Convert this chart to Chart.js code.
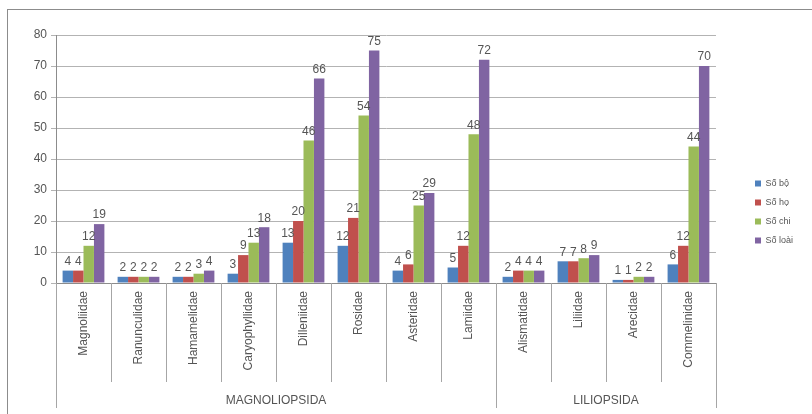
<!DOCTYPE html>
<html>
<head>
<meta charset="utf-8">
<script src="https://cdn.jsdelivr.net/npm/chart.js@4.4.1/dist/chart.umd.min.js"></script>
<style>
  html, body { margin: 0; padding: 0; background: #fff; }
  #wrap { position: relative; width: 812px; height: 414px; overflow: hidden; }
  #frame { position: absolute; left: 7px; top: 9px; width: 830px; height: 430px; border: 1px solid #8c8c8c; box-sizing: border-box; }
  #chart { position: absolute; left: 0; top: 0; }
</style>
</head>
<body>
<div id="wrap">
  <div id="frame"></div>
  <canvas id="chart" width="812" height="414"></canvas>
</div>
<script>
// Dữ liệu
const categories = ['Magnoliidae', 'Ranunculidae', 'Hamamelidae', 'Caryophyllidae', 'Dilleniidae', 'Rosidae',
  'Asteridae', 'Lamiidae', 'Alismatidae', 'Liliidae', 'Arecidae', 'Commelinidae'];
const groupLabels = ['MAGNOLIOPSIDA', 'LILIOPSIDA'];
const groupSizes = [8, 4];

const soBo   = [4, 2, 2, 3, 13, 12, 4, 5, 2, 7, 1, 6];
const soHo   = [4, 2, 2, 9, 20, 21, 6, 12, 4, 7, 1, 12];
const soChi  = [12, 2, 3, 13, 46, 54, 25, 48, 4, 8, 2, 44];
const soLoai = [19, 2, 4, 18, 66, 75, 29, 72, 4, 9, 2, 70];

const yTicks = [0, 10, 20, 30, 40, 50, 60, 70, 80];

const FONT = '"Liberation Sans", Arial, sans-serif';
const TEXT = '#555555';

// Nhãn giá trị trên cột
const valueLabels = {
  id: 'valueLabels',
  afterDatasetsDraw(chart) {
    const ctx = chart.ctx;
    ctx.save();
    ctx.font = '12px ' + FONT;
    ctx.fillStyle = TEXT;
    ctx.textAlign = 'center';
    ctx.textBaseline = 'bottom';
    chart.data.datasets.forEach((ds, i) => {
      chart.getDatasetMeta(i).data.forEach((bar, j) => {
        ctx.fillText(ds.data[j], bar.x, bar.y - 3);
      });
    });
    ctx.restore();
  }
};

// Đường phân cách và nhãn nhóm dưới trục x
const groupAxis = {
  id: 'groupAxis',
  afterDraw(chart) {
    const xs = chart.scales.x;
    const ctx = chart.ctx;
    const band = (xs.right - xs.left) / categories.length;
    const bounds = [0];
    let acc = 0;
    groupSizes.forEach(n => { acc += n; bounds.push(acc); });

    ctx.save();
    ctx.strokeStyle = '#a6a6a6';
    ctx.lineWidth = 1;
    for (let k = 0; k <= categories.length; k++) {
      const x = Math.round(xs.left + k * band) + 0.5;
      const end = bounds.includes(k) ? chart.height - 6 : xs.bottom - 7;
      ctx.beginPath();
      ctx.moveTo(x, xs.top);
      ctx.lineTo(x, end);
      ctx.stroke();
    }

    ctx.font = '12px ' + FONT;
    ctx.fillStyle = TEXT;
    ctx.textAlign = 'center';
    ctx.textBaseline = 'middle';
    groupLabels.forEach((lbl, g) => {
      const mid = (bounds[g] + bounds[g + 1]) / 2;
      ctx.fillText(lbl, xs.left + mid * band, chart.height - 13);
    });
    ctx.restore();
  }
};

new Chart(document.getElementById('chart'), {
  type: 'bar',
  data: {
    labels: categories,
    datasets: [
      { label: 'Số bộ', data: soBo, backgroundColor: '#4F81BD' },
      { label: 'Số họ', data: soHo, backgroundColor: '#C0504D' },
      { label: 'Số chi', data: soChi, backgroundColor: '#9BBB59' },
      { label: 'Số loài', data: soLoai, backgroundColor: '#8064A2' }
    ]
  },
  options: {
    responsive: false,
    animation: false,
    devicePixelRatio: 1,
    categoryPercentage: 0.76,
    barPercentage: 1,
    layout: { padding: { top: 35, right: 9, bottom: 25, left: 0 } },
    plugins: {
      legend: {
        position: 'right',
        labels: {
          boxWidth: 6,
          boxHeight: 6,
          padding: 10,
          color: TEXT,
          font: { family: FONT, size: 9 }
        }
      },
      tooltip: { enabled: false }
    },
    scales: {
      x: {
        grid: { display: false, drawTicks: false },
        border: { display: true, color: '#8c8c8c' },
        ticks: {
          minRotation: 90,
          maxRotation: 90,
          padding: 8,
          color: TEXT,
          font: { family: FONT, size: 12 }
        },
        afterFit(s) { s.height = 106; }
      },
      y: {
        min: 0,
        max: 80,
        afterBuildTicks(s) { s.ticks = yTicks.map(v => ({ value: v })); },
        grid: { color: '#b3b3b3', tickLength: 5 },
        border: { display: true, color: '#8c8c8c' },
        ticks: {
          padding: 4,
          color: TEXT,
          font: { family: FONT, size: 12 }
        },
        afterFit(s) { s.width = 56; }
      },
      gap: {
        type: 'linear',
        position: 'right',
        grid: { display: false, drawTicks: false },
        border: { display: false },
        ticks: { display: false },
        afterFit(s) { s.width = 29; }
      }
    }
  },
  plugins: [valueLabels, groupAxis]
});
</script>
</body>
</html>
